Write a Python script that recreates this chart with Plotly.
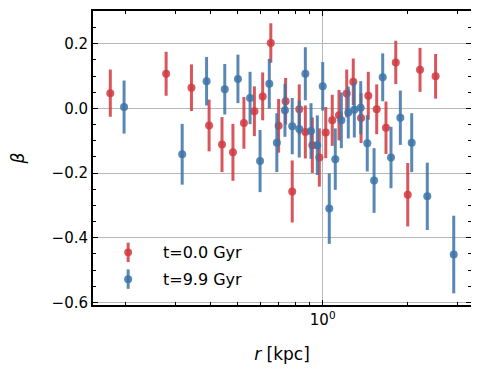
import numpy as np
import plotly.graph_objects as go

# t = 0.0 Gyr
r_red = [0.177, 0.279, 0.343, 0.396, 0.440, 0.481, 0.526, 0.573, 0.613, 0.655,
         0.698, 0.739, 0.780, 0.826, 0.868, 0.919, 0.973, 1.025, 1.081, 1.142,
         1.216, 1.283, 1.367, 1.450, 1.553, 1.675, 1.814, 2.000, 2.211, 2.510]
beta_red = [0.047, 0.107, 0.064, -0.053, -0.112, -0.136, -0.045, -0.009, 0.037, 0.202,
            -0.054, 0.022, -0.257, -0.003, -0.073, -0.114, -0.152, -0.075, -0.037, -0.021,
            0.046, 0.082, -0.030, 0.039, -0.003, -0.060, 0.142, -0.267, 0.119, 0.099]
err_red = [0.073, 0.068, 0.072, 0.080, 0.085, 0.088, 0.080, 0.077, 0.074, 0.061,
           0.083, 0.072, 0.096, 0.077, 0.082, 0.086, 0.090, 0.079, 0.079, 0.078,
           0.074, 0.072, 0.077, 0.074, 0.077, 0.081, 0.067, 0.098, 0.068, 0.069]

# t = 9.9 Gyr
r_blue = [0.198, 0.318, 0.388, 0.450, 0.501, 0.553, 0.600, 0.647, 0.688, 0.735,
          0.780, 0.826, 0.868, 0.909, 0.957, 1.000, 1.055, 1.108, 1.164, 1.232,
          1.294, 1.363, 1.438, 1.520, 1.631, 1.745, 1.883, 2.066, 2.346, 2.910]
beta_blue = [0.004, -0.142, 0.084, 0.059, 0.091, 0.032, -0.163, 0.076, -0.106, -0.006,
             -0.055, -0.064, 0.107, -0.070, -0.114, 0.068, -0.310, -0.157, -0.037, -0.013,
             -0.004, 0.002, -0.108, -0.223, 0.096, -0.152, -0.029, -0.106, -0.272, -0.452]
err_blue = [0.082, 0.094, 0.075, 0.078, 0.075, 0.081, 0.096, 0.077, 0.091, 0.082,
            0.087, 0.088, 0.082, 0.086, 0.092, 0.075, 0.109, 0.095, 0.086, 0.080,
            0.086, 0.082, 0.087, 0.100, 0.074, 0.095, 0.084, 0.091, 0.104, 0.120]

series = [
    ("t=0.0 Gyr", r_red, beta_red, err_red, "rgba(208,58,64,0.85)"),
    ("t=9.9 Gyr", r_blue, beta_blue, err_blue, "rgba(60,115,168,0.85)"),
]

fig = go.Figure()
for name, x, y, e, col in series:
    fig.add_trace(go.Scatter(
        x=x, y=y, mode="markers", name=name, showlegend=False,
        marker=dict(color=col, size=8, line=dict(width=0)),
        error_y=dict(type="data", array=e, visible=True, color=col,
                     thickness=3, width=0),
    ))

# hand-made legend (marker with vertical error bar, like matplotlib)
leg_x, leg_y, leg_dy = 0.093, 0.179, 0.091
for i, (name, x, y, e, col) in enumerate(series):
    yc = leg_y - i * leg_dy
    fig.add_shape(type="line", xref="paper", yref="paper",
                  x0=leg_x, x1=leg_x, y0=yc - 0.033, y1=yc + 0.033,
                  line=dict(color=col, width=3))
    fig.add_shape(type="circle", xref="paper", yref="paper",
                  x0=leg_x - 0.0106, x1=leg_x + 0.0106,
                  y0=yc - 0.0135, y1=yc + 0.0135,
                  fillcolor=col, line=dict(width=0))
    fig.add_annotation(text=name, xref="paper", yref="paper",
                       x=0.18, y=yc, xanchor="left", yanchor="middle",
                       showarrow=False, font=dict(size=16, color="black"))

axis_common = dict(
    showline=True, linecolor="black", linewidth=2, mirror="allticks",
    ticks="inside", ticklen=5, tickwidth=1.2, tickcolor="black",
    gridcolor="#b8b8b8", gridwidth=1.2, zeroline=False,
    tickfont=dict(size=15, color="black"),
)

minor_x = [0.2, 0.3, 0.4, 0.5, 0.6, 0.7, 0.8, 0.9, 2, 3]

fig.update_xaxes(
    type="log", range=[np.log10(0.1537), np.log10(3.35)],
    tickvals=[1], ticktext=["10<sup>0</sup>"],
    minor=dict(tickvals=minor_x, ticks="inside", ticklen=3, tickcolor="black",
               showgrid=False),
    title=dict(text="<i>r</i> [kpc]", font=dict(size=17, color="black"), standoff=20),
    **axis_common,
)
fig.update_yaxes(
    range=[-0.608, 0.301],
    tickvals=[-0.6, -0.4, -0.2, 0.0, 0.2],
    ticktext=["\u22120.6", "\u22120.4", "\u22120.2", "0.0", "0.2"],
    minor=dict(dtick=0.05, tick0=0, ticks="inside", ticklen=3, tickcolor="black",
               showgrid=False),
    title=dict(text="<i>β</i>", font=dict(size=17, color="black"), standoff=24),
    **axis_common,
)

fig.update_layout(
    width=479, height=373,
    margin=dict(l=85, r=16, t=1, b=76),
    plot_bgcolor="white", paper_bgcolor="white",
    font=dict(family="DejaVu Sans", color="black"),
)

fig.write_html("out.html")
